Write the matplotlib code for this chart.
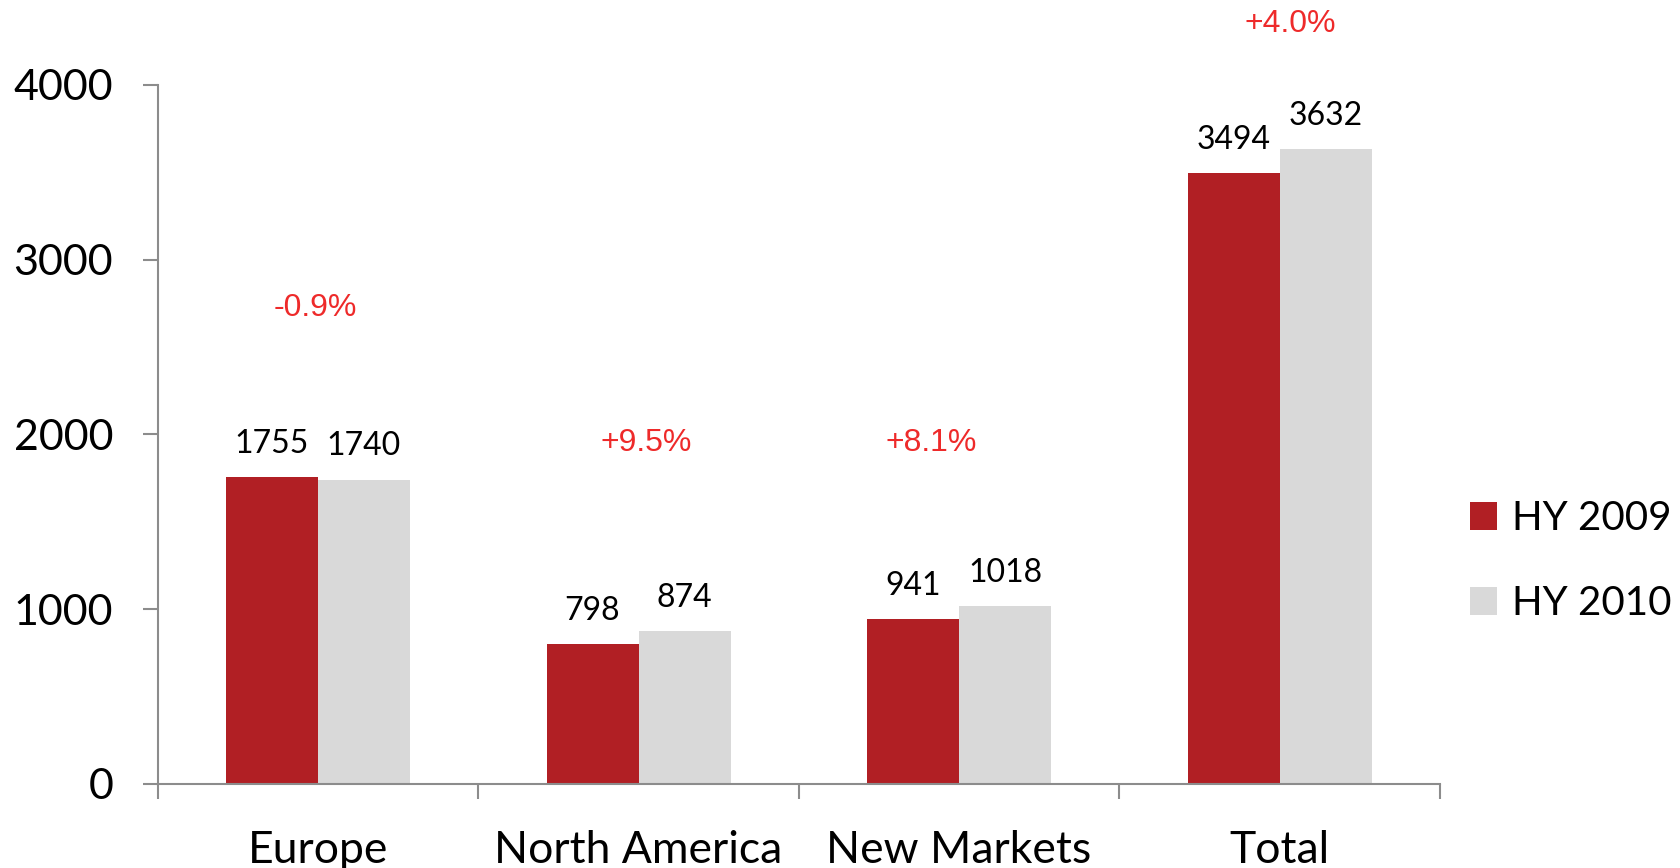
import numpy as np
import matplotlib
matplotlib.use("Agg")
import matplotlib.pyplot as plt

# data
categories = ["Europe", "North America", "New Markets", "Total"]
hy2009 = [1755, 798, 941, 3494]
hy2010 = [1740, 874, 1018, 3632]
growth_labels = ["-0.9%", "+9.5%", "+8.1%", "+4.0%"]
# where the growth labels sit (hand placed in the original)
growth_label_y = [2724, 1951, 1951, 4350]
growth_label_dx = [-0.007, 0.023, -0.087, 0.033]

red = "#B11F24"
grey = "#D9D9D9"
axis_grey = "#8C8C8C"
pct_red = "#EE2A2A"
main_font = ["Lato", "DejaVu Sans"]

fig = plt.figure(figsize=(16.81, 8.68), dpi=100)
ax = fig.add_axes([0.0938, 0.0968, 0.7628, 0.8056])

x = np.arange(len(categories))
w = 0.287
b1 = ax.bar(x - w / 2, hy2009, w, color=red, label="HY 2009")
b2 = ax.bar(x + w / 2, hy2010, w, color=grey, label="HY 2010")

# value labels above bars
for bars in (b1, b2):
    for r in bars:
        ax.annotate(str(int(r.get_height())), (r.get_x() + r.get_width() / 2, r.get_height()),
                    xytext=(0, 24), textcoords="offset points", ha="center", va="center",
                    fontsize=23, family=main_font, color="black")

# growth labels
for i, lab in enumerate(growth_labels):
    ax.text(x[i] + growth_label_dx[i], growth_label_y[i], lab, ha="center", va="center",
            fontsize=23, family=["Liberation Sans", "DejaVu Sans"], color=pct_red, clip_on=False)

ax.set_xlim(-0.5, len(categories) - 0.5)
ax.set_ylim(0, 4000)
ax.set_yticks([0, 1000, 2000, 3000, 4000])

ax.set_xticks(x)
ax.set_xticklabels(categories)
ax.set_xticks(np.arange(len(categories) + 1) - 0.5, minor=True)
ax.tick_params(axis="x", which="major", length=0, pad=33)
ax.tick_params(axis="x", which="minor", length=11, width=1.5, color=axis_grey, direction="out")
ax.tick_params(axis="y", length=11, width=1.5, color=axis_grey, direction="out", pad=21)

for lbl in ax.get_xticklabels():
    lbl.set_family(main_font)
    lbl.set_fontsize(32)
for lbl in ax.get_yticklabels():
    lbl.set_family(main_font)
    lbl.set_fontsize(31)

for s in ("top", "right"):
    ax.spines[s].set_visible(False)
for s in ("left", "bottom"):
    ax.spines[s].set_color(axis_grey)
    ax.spines[s].set_linewidth(1.5)

leg = ax.legend(loc="center left", bbox_to_anchor=(0.8745, 0.3537), bbox_transform=fig.transFigure,
                frameon=False, borderpad=0, borderaxespad=0,
                prop={"family": main_font, "size": 29}, handlelength=0.68, handleheight=0.68,
                handletextpad=0.35, labelspacing=1.2)

fig.savefig("out.png", dpi=100)
